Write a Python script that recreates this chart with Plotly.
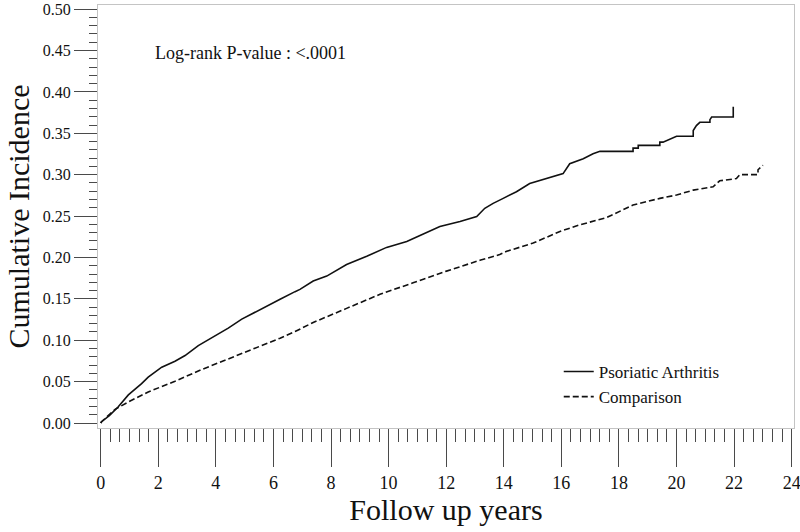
import plotly.graph_objects as go

# Psoriatic Arthritis cumulative incidence (years, value)
psa_t = [0, 0.03, 0.3, 0.61, 0.96, 1.2, 1.42, 1.65, 2.12, 2.58, 2.93, 3.39, 3.97, 4.43, 4.9,
         5.36, 6.05, 6.23, 6.75, 6.92, 7.38, 7.85, 8.54, 9.24, 9.93, 10.63, 11.09, 11.78,
         12.48, 13.06, 13.34, 13.63, 13.98, 14.44, 14.9, 15.49, 16.06, 16.29, 16.76, 17.1,
         17.34, 18.03, 18.49, 18.49, 18.67, 18.67, 19.42, 19.42, 19.53, 20.0, 20.58, 20.58,
         20.69, 20.81, 21.16, 21.16, 21.22, 21.97, 21.97]
psa_y = [0, 0.0016, 0.009, 0.0196, 0.034, 0.041, 0.0476, 0.0555, 0.0675, 0.0747, 0.0815, 0.0935,
         0.1055, 0.1147, 0.1255, 0.1335, 0.1455, 0.1495, 0.1587, 0.1615, 0.1715, 0.1775,
         0.1915, 0.2014, 0.2122, 0.2194, 0.2266, 0.2374, 0.2434, 0.2494, 0.2594, 0.2654,
         0.2714, 0.2794, 0.2893, 0.2953, 0.3013, 0.3133, 0.3193, 0.3253, 0.3282, 0.3282,
         0.3282, 0.3321, 0.3321, 0.3354, 0.3354, 0.3393, 0.3393, 0.3465, 0.3465, 0.3533,
         0.3593, 0.3633, 0.3633, 0.3665, 0.3697, 0.3697, 0.3821]

# Comparison cohort cumulative incidence
cmp_t = [0, 0.03, 0.5, 0.96, 1.65, 2.58, 3.5, 4.43, 5.36, 6.05, 6.23, 6.75, 7.38, 8.54, 9.7,
         10.85, 12.01, 13.17, 13.86, 14.1, 15.02, 15.95, 16.64, 17.57, 18.49, 19.42, 20.0,
         20.58, 21.27, 21.5, 22.08, 22.2, 22.83, 22.83, 23.0]
cmp_y = [0, 0.0016, 0.0165, 0.0255, 0.0375, 0.0505, 0.0645, 0.0775, 0.0905, 0.0995, 0.1025,
         0.1105, 0.1215, 0.1385, 0.1555, 0.1694, 0.1835, 0.1966, 0.2035, 0.2074, 0.2174,
         0.2314, 0.2394, 0.2482, 0.2634, 0.2714, 0.2754, 0.2814, 0.2854, 0.2926, 0.2953,
         0.3001, 0.3001, 0.3060, 0.3114]

x_ticks = list(range(0, 25, 2))
y_ticks = [round(0.05 * i, 2) for i in range(11)]

serif = "Liberation Serif"
tickcol = "#4a4a4a"
boxcol = "#c4c4c4"

fig = go.Figure()
fig.add_trace(go.Scatter(x=psa_t, y=psa_y, mode="lines", name="Psoriatic Arthritis",
                         line=dict(color="#111111", width=1.6)))
fig.add_trace(go.Scatter(x=cmp_t, y=cmp_y, mode="lines", name="Comparison",
                         line=dict(color="#111111", width=1.6, dash="6px,3px")))

fig.add_annotation(x=1.82, y=0.447, xref="x", yref="y", text="Log-rank P-value : <.0001",
                   showarrow=False, xanchor="left", yanchor="middle",
                   font=dict(family=serif, size=18, color="#111111"))

fig.update_layout(
    width=800, height=532,
    margin=dict(l=98, r=6, t=5, b=104, autoexpand=False),
    paper_bgcolor="white", plot_bgcolor="white",
    showlegend=True,
    legend=dict(x=0.662, y=0.175, xanchor="left", yanchor="top",
                font=dict(family=serif, size=17, color="#111111"),
                bgcolor="rgba(0,0,0,0)", tracegroupgap=0, itemwidth=30),
    font=dict(family=serif, color="#111111"),
)

fig.update_xaxes(
    range=[-0.094, 24.08], tickvals=x_ticks, ticktext=[str(v) for v in x_ticks],
    ticks="outside", ticklen=38, tickwidth=1.3, tickcolor=tickcol,
    minor=dict(dtick=1/3, tick0=0, ticks="outside", ticklen=13, tickwidth=1.3, tickcolor=tickcol,
               showgrid=False),
    showline=True, linecolor=boxcol, linewidth=1.3, mirror=True,
    showgrid=False, zeroline=False, automargin=False, ticklabeloverflow="allow",
    tickfont=dict(family=serif, size=18, color="#111111"),
    title=dict(text="Follow up years", font=dict(family=serif, size=30, color="#111111"), standoff=4),
)
fig.update_yaxes(
    range=[-0.006, 0.505], tickvals=y_ticks, ticktext=[f"{v:.2f}" for v in y_ticks],
    ticks="outside", ticklen=23, tickwidth=1.3, tickcolor=tickcol,
    minor=dict(dtick=0.01, tick0=0, ticks="outside", ticklen=8, tickwidth=1.3, tickcolor=tickcol,
               showgrid=False),
    showline=True, linecolor=boxcol, linewidth=1.3, mirror=True,
    showgrid=False, zeroline=False, automargin=False, ticklabeloverflow="allow",
    tickfont=dict(family=serif, size=16, color="#111111"),
    title=dict(text="Cumulative Incidence", font=dict(family=serif, size=30, color="#111111"), standoff=4),
)

fig.write_html("out.html", config={"displayModeBar": False},
               post_script="document.body.style.margin='0px';")
